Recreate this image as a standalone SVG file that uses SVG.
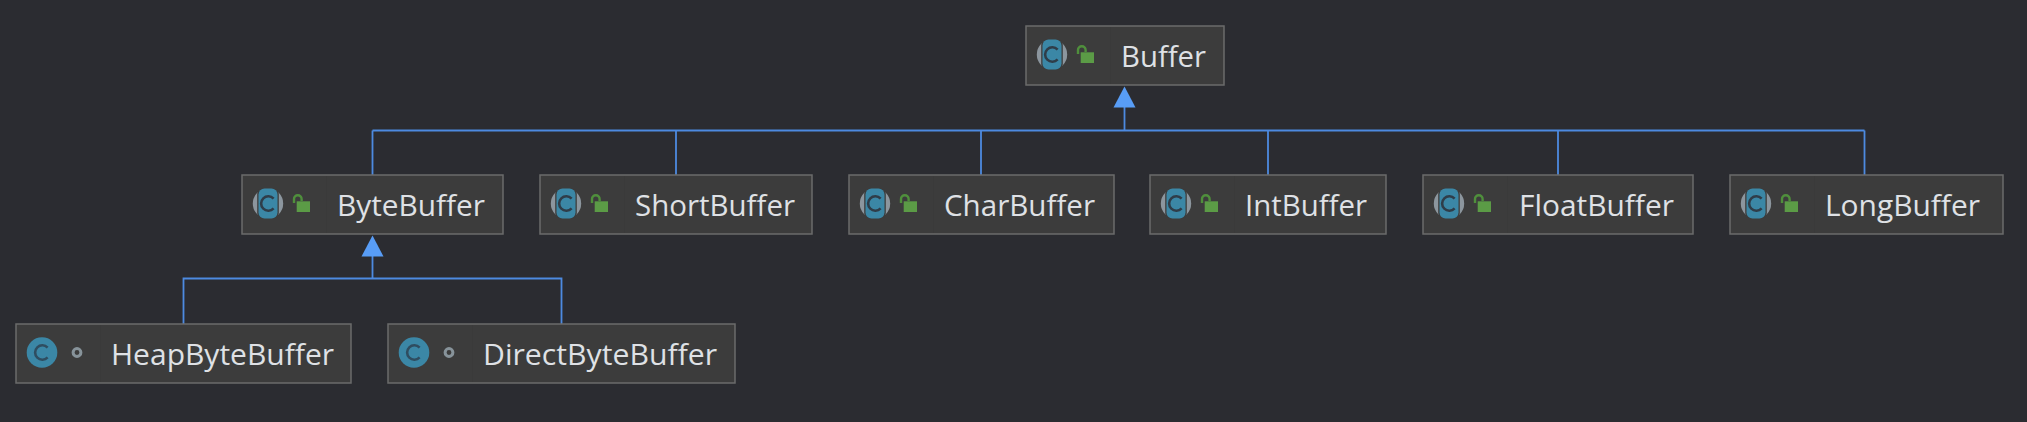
<svg xmlns="http://www.w3.org/2000/svg" width="2027" height="422" viewBox="0 0 2027 422">
<style>
.box{fill:#3c3c3c;stroke:#6b6b6b;stroke-width:1.5}
.div{stroke:#3a3a3a;stroke-width:1}
.lbl{font-family:"Open Sans","Noto Sans","Liberation Sans",sans-serif;font-size:30px;fill:#dfe1e5}
.line{fill:none;stroke:#4d8ae0;stroke-width:1.8}
.head{fill:#589df6}
</style>
<defs>
<g id="pub">
<circle cx="26" cy="28.5" r="15.2" fill="#8c969e"/>
<rect x="15.200" y="13" width="21.600" height="31" rx="6" fill="#3c3c3c"/>
<rect x="16.500" y="13.500" width="19" height="30" rx="6" fill="#3b87a6"/>
<path d="M31.6 23.6 A7.2 7.2 0 1 0 31.6 33.4" fill="none" stroke="#2f3d49" stroke-width="2.6"/>
<rect x="54.700" y="26.300" width="13.300" height="10.700" fill="#5b9b46"/>
<path d="M52 28 V24 A3.8 3.8 0 0 1 59.600 24 V26" fill="none" stroke="#4f8f3c" stroke-width="2.4"/>
</g>
<g id="pkg">
<circle cx="26" cy="28.5" r="15.3" fill="#3b87a6"/>
<path d="M31.6 23.6 A7.2 7.2 0 1 0 31.6 33.4" fill="none" stroke="#2f4d60" stroke-width="2.6"/>
<circle cx="61" cy="28.5" r="3.9" fill="none" stroke="#87939a" stroke-width="3"/>
</g>
</defs>
<rect width="2027" height="422" fill="#2b2c31"/>
<g id="connectors">
<path class="line" d="M1124.5 107 V130.5 M372.5 130.5 H1864.5 M372.5 130.5 V175 M676 130.5 V175 M981 130.5 V175 M1268 130.5 V175 M1558 130.5 V175 M1864.5 130.5 V175"/>
<polygon class="head" points="1124.5,86.5 1113.5,107.5 1135.5,107.5"/>
<path class="line" d="M372.5 256 V278.5 M183.5 324 V278.5 H561.5 V324"/>
<polygon class="head" points="372.5,235.5 361.5,256.5 383.5,256.5"/>
</g>
<g id="Buffer"><rect class="box" x="1026" y="26" width="198" height="59"/><path class="div" d="M1110.500 27V84"/><use href="#pub" x="1026" y="26"/><text class="lbl" x="1121" y="67" textLength="85" lengthAdjust="spacingAndGlyphs">Buffer</text></g>
<g id="ByteBuffer"><rect class="box" x="242" y="175" width="261" height="59"/><path class="div" d="M326.500 176V233"/><use href="#pub" x="242" y="175"/><text class="lbl" x="337" y="216" textLength="148" lengthAdjust="spacingAndGlyphs">ByteBuffer</text></g>
<g id="ShortBuffer"><rect class="box" x="540" y="175" width="272" height="59"/><path class="div" d="M624.500 176V233"/><use href="#pub" x="540" y="175"/><text class="lbl" x="635" y="216" textLength="160" lengthAdjust="spacingAndGlyphs">ShortBuffer</text></g>
<g id="CharBuffer"><rect class="box" x="849" y="175" width="265" height="59"/><path class="div" d="M933.500 176V233"/><use href="#pub" x="849" y="175"/><text class="lbl" x="944" y="216" textLength="151" lengthAdjust="spacingAndGlyphs">CharBuffer</text></g>
<g id="IntBuffer"><rect class="box" x="1150" y="175" width="236" height="59"/><path class="div" d="M1234.500 176V233"/><use href="#pub" x="1150" y="175"/><text class="lbl" x="1245" y="216" textLength="122" lengthAdjust="spacingAndGlyphs">IntBuffer</text></g>
<g id="FloatBuffer"><rect class="box" x="1423" y="175" width="270" height="59"/><path class="div" d="M1507.500 176V233"/><use href="#pub" x="1423" y="175"/><text class="lbl" x="1519" y="216" textLength="155" lengthAdjust="spacingAndGlyphs">FloatBuffer</text></g>
<g id="LongBuffer"><rect class="box" x="1730" y="175" width="273" height="59"/><path class="div" d="M1814.500 176V233"/><use href="#pub" x="1730" y="175"/><text class="lbl" x="1825" y="216" textLength="155" lengthAdjust="spacingAndGlyphs">LongBuffer</text></g>
<g id="HeapByteBuffer"><rect class="box" x="16" y="324" width="335" height="59"/><path class="div" d="M100.500 325V382"/><use href="#pkg" x="16" y="324"/><text class="lbl" x="111" y="365" textLength="223" lengthAdjust="spacingAndGlyphs">HeapByteBuffer</text></g>
<g id="DirectByteBuffer"><rect class="box" x="388" y="324" width="347" height="59"/><path class="div" d="M472.500 325V382"/><use href="#pkg" x="388" y="324"/><text class="lbl" x="483" y="365" textLength="234" lengthAdjust="spacingAndGlyphs">DirectByteBuffer</text></g>
</svg>
